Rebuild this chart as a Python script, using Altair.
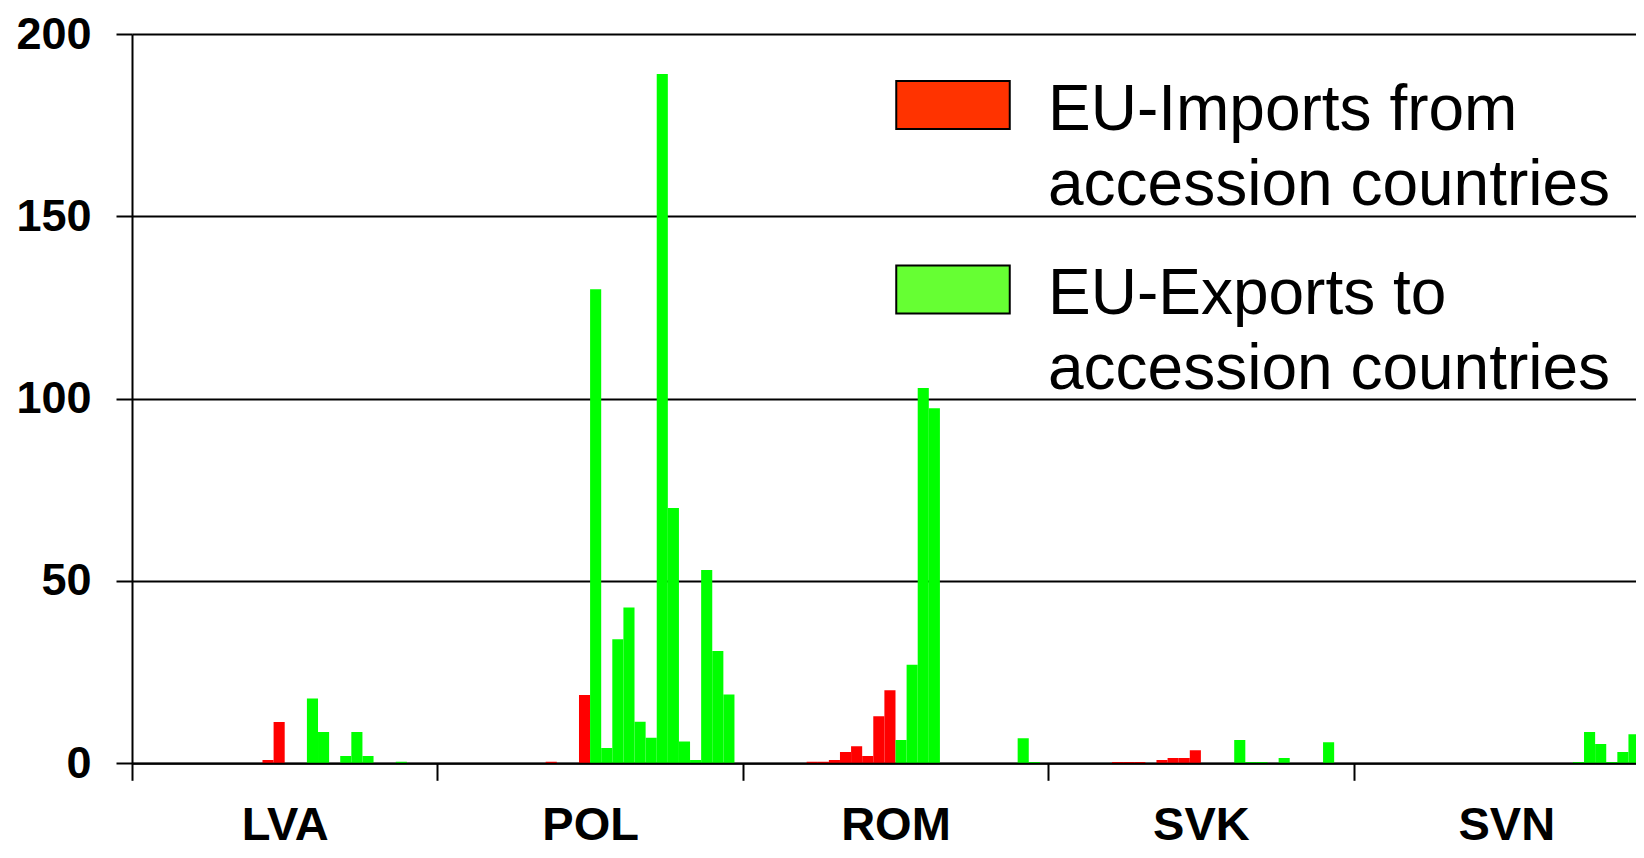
import altair as alt
import pandas as pd

# ---- data ----
countries = ["LVA", "POL", "ROM", "SVK", "SVN"]
flow_keys = ["imports", "exports"]
flow_labels = ["EU-Imports from\naccession countries", "EU-Exports to\naccession countries"]

imports_lva = [0, 0, 0, 0, 0, 0, 0, 0, 0, 0, 0, 0.9, 11.3]
exports_lva = [0, 0, 17.8, 8.6, 0, 2.0, 8.6, 2.0, 0, 0, 0.45, 0, 0]
imports_pol = [0, 0, 0, 0, 0, 0, 0, 0, 0, 0.45, 0, 0, 18.7]
exports_pol = [130, 4.2, 34, 42.7, 11.4, 7.0, 189, 70, 6.0, 0.9, 53, 30.8, 18.9]
imports_rom = [0, 0, 0, 0, 0, 0.45, 0.45, 0.9, 3.1, 4.7, 2.0, 12.9, 20.0]
exports_rom = [6.4, 27, 102.9, 97.4, 0, 0, 0, 0, 0, 0, 0, 6.9, 0.36]
imports_svk = [0, 0, 0, 0, 0, 0.36, 0.36, 0.36, 0, 0.9, 1.46, 1.46, 3.6]
exports_svk = [0, 0, 0, 6.4, 0.36, 0.36, 0, 1.46, 0, 0, 0, 5.8, 0]
imports_svn = [0, 0, 0, 0, 0, 0, 0, 0, 0, 0, 0, 0, 0]
exports_svn = [0, 0, 0, 0, 0, 0, 0.36, 8.6, 5.3, 0.36, 3.1, 8.0, 0.9]

y_ticks = [0, 50, 100, 150, 200]

series = {
    "LVA": (imports_lva, exports_lva),
    "POL": (imports_pol, exports_pol),
    "ROM": (imports_rom, exports_rom),
    "SVK": (imports_svk, exports_svk),
    "SVN": (imports_svn, exports_svn),
}

# ---- clustered layout (Excel style: 26 bars per country + a gap of 1.5 bars) ----
n_groups = 13
gap = 1.5
cat_units = 2 * n_groups + gap
visible_units = 135.43  # the source picture is cut off at its right edge

rows = []
for ci, c in enumerate(countries):
    for fi, vals in enumerate(series[c]):
        for gi, v in enumerate(vals):
            start = ci * cat_units + gap / 2 + fi * n_groups + gi
            rows.append({"country": c, "flow": flow_keys[fi], "series": flow_labels[fi],
                         "group": gi + 1, "value": v, "x0": start, "x1": start + 1})
df = pd.DataFrame(rows)

boundaries = [ci * cat_units for ci in range(len(countries))]
centers = [ci * cat_units + cat_units / 2 for ci in range(len(countries))]
label_expr = " : ".join(
    [f"datum.value == {centers[i]} ? '{countries[i]}'" for i in range(len(countries))]
) + " : ''"

FONT = "Liberation Sans"

x_scale = alt.Scale(domain=[0, visible_units], nice=False, zero=False)
x_axis = alt.Axis(
    values=boundaries + centers, labelExpr=label_expr, labelOverlap=False, labelFlush=False,
    labelFont=FONT, labelFontSize=47, labelFontWeight="bold", labelColor="black", labelPadding=22,
    tickSize=17, tickWidth=2, tickColor="black",
    tickOpacity={"condition": {"test": f"datum.value % {cat_units} == 0", "value": 1}, "value": 0},
    domainColor="black", domainWidth=2, grid=False, title=None, zindex=1,
)
y_scale = alt.Scale(domain=[0, 200], nice=False)
y_axis = alt.Axis(
    values=y_ticks, grid=True, gridColor="black", gridWidth=2, gridOpacity=1,
    domainColor="black", domainWidth=2, tickColor="black", tickWidth=2, tickSize=16,
    labelFont=FONT, labelFontSize=45, labelFontWeight="bold", labelColor="black",
    labelPadding=25, title=None,
)

base = alt.Chart(df)

bars = base.mark_bar(clip=True).encode(
    x=alt.X("x0:Q", scale=x_scale, axis=x_axis),
    x2="x1:Q",
    y=alt.Y("value:Q", scale=y_scale, axis=y_axis),
    y2=alt.datum(0),
    color=alt.Color("flow:N", scale=alt.Scale(domain=flow_keys, range=["#FF0000", "#00FF00"]),
                    legend=None),
)

# zero-height layer that only carries the legend (its swatches use other colours)
legend_layer = base.mark_bar(clip=True).encode(
    x=alt.X("x0:Q", scale=x_scale, axis=x_axis),
    x2="x1:Q",
    y=alt.Y("zero:Q", scale=y_scale, axis=y_axis),
    y2=alt.datum(0),
    fill=alt.Fill(
        "series:N",
        scale=alt.Scale(domain=flow_labels, range=["#FF3300", "#66FF33"]),
        legend=alt.Legend(
            title=None,
            orient="none",
            legendX=763,
            legendY=18.6,
            direction="vertical",
            padding=0,
            symbolType="M-1,-0.52H1V0.326H-1Z",
            symbolSize=12882,
            symbolStrokeColor="black",
            symbolStrokeWidth=2,
            labelFont=FONT,
            labelFontSize=64,
            labelColor="black",
            labelLimit=2000,
            labelOffset=37,
            labelExpr="split(datum.label, '\\n')",
            rowPadding=18.3,
        ),
    ),
).transform_calculate(zero="0")

chart = (
    alt.layer(bars, legend_layer)
    .properties(
        width=1504,
        height=729.3,
        autosize=alt.AutoSizeParams(type="none"),
        padding={"left": 124, "top": 26, "right": 0, "bottom": 86.7},
        background="white",
    )
    .configure(style={"guide-label": {"lineHeight": 75.5}})
    .configure_view(stroke=None)
)

chart.save("out.html", embed_options={"renderer": "svg", "actions": False})
